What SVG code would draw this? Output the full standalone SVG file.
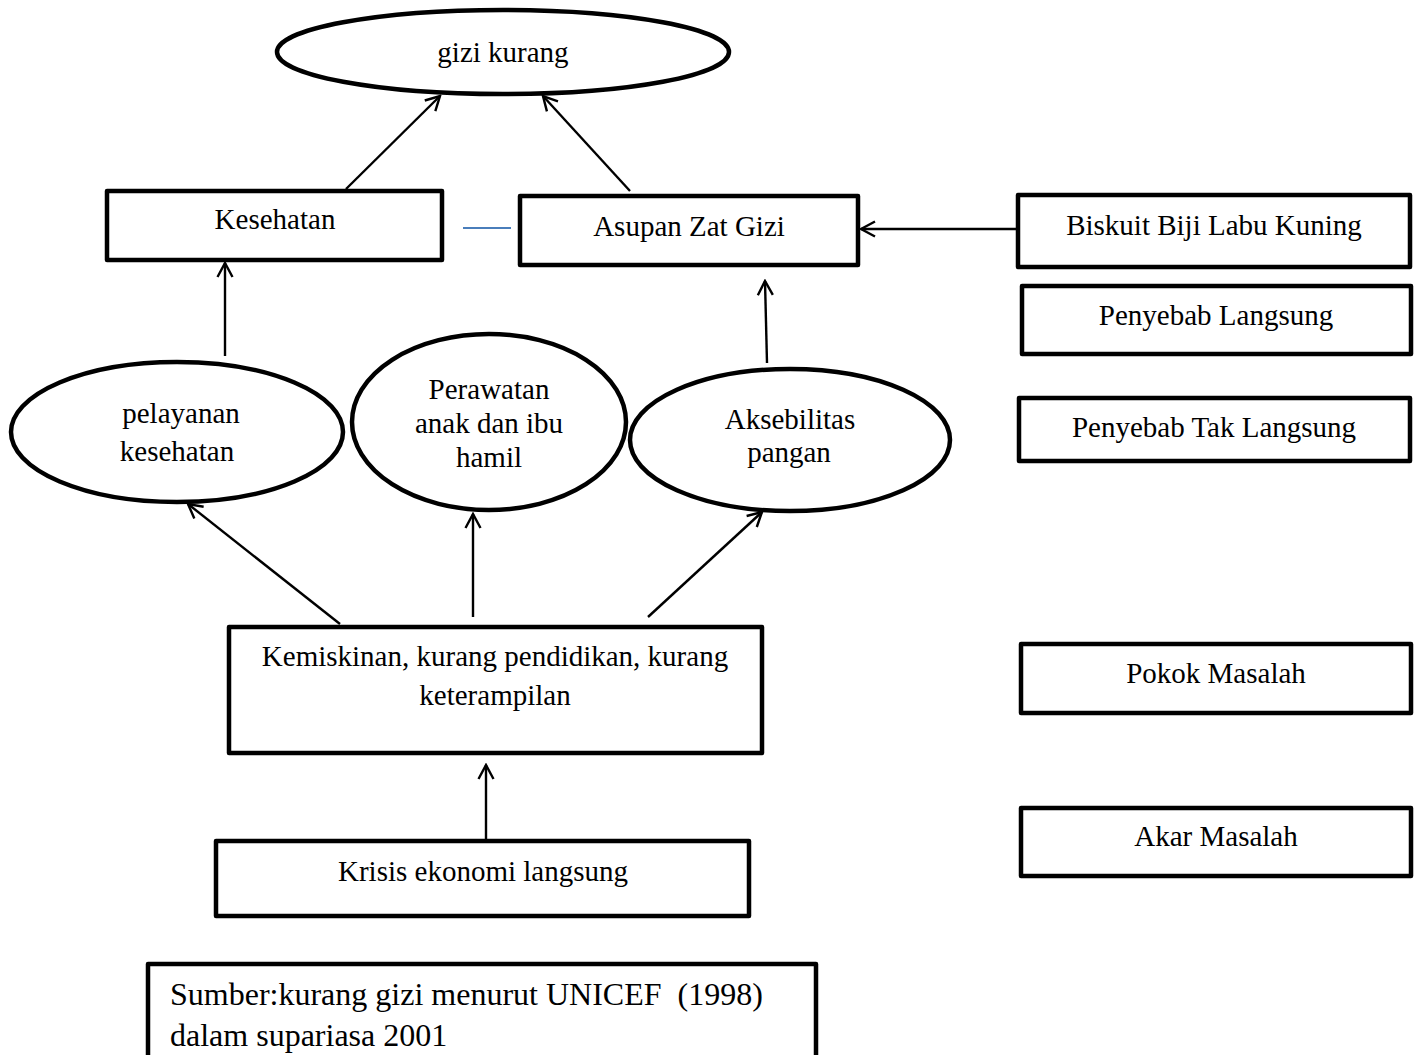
<svg xmlns="http://www.w3.org/2000/svg" width="1417" height="1055" viewBox="0 0 1417 1055">
<defs>
<marker id="arr" viewBox="0 0 18 18" refX="16" refY="9" markerWidth="18" markerHeight="18" markerUnits="userSpaceOnUse" orient="auto">
<path d="M2,1.5 L16,9 L2,16.5" fill="none" stroke="#000" stroke-width="2.4"/>
</marker>
<style>
.box{fill:#fff;stroke:#000;stroke-width:4.5;stroke-linejoin:round}
.ell{fill:#fff;stroke:#000;stroke-width:4.5}
.t{font-family:"Liberation Serif","Times New Roman",serif;font-size:29px;fill:#000;text-anchor:middle}
.tl{font-family:"Liberation Serif","Times New Roman",serif;font-size:32px;fill:#000}
.c{stroke:#000;stroke-width:2.4;fill:none;marker-end:url(#arr)}
</style>
</defs>
<rect width="1417" height="1055" fill="#fff"/>
<g id="connectors">
<line class="c" x1="346" y1="189" x2="440" y2="96"/>
<line class="c" x1="630" y1="191" x2="543" y2="96"/>
<line class="c" x1="1018" y1="229" x2="861" y2="229"/>
<line class="c" x1="225" y1="356" x2="225" y2="263"/>
<line class="c" x1="767" y1="363" x2="765" y2="281"/>
<line class="c" x1="340" y1="624" x2="188" y2="504"/>
<line class="c" x1="473" y1="617" x2="473" y2="514"/>
<line class="c" x1="648" y1="617" x2="762" y2="512"/>
<line class="c" x1="486" y1="839" x2="486" y2="765"/>
<line x1="463" y1="228" x2="511" y2="228" stroke="#4a7ebb" stroke-width="2"/>
</g>
<g id="gizi-kurang">
<ellipse class="ell" cx="503" cy="52" rx="226" ry="42"/>
<text class="t" x="503" y="62">gizi kurang</text>
</g>
<g id="kesehatan">
<rect class="box" x="107" y="191" width="335" height="69"/>
<text class="t" x="275" y="229">Kesehatan</text>
</g>
<g id="asupan">
<rect class="box" x="520" y="196" width="338" height="69"/>
<text class="t" x="689" y="236">Asupan Zat Gizi</text>
</g>
<g id="biskuit">
<rect class="box" x="1018" y="195" width="392" height="72"/>
<text class="t" x="1214" y="235">Biskuit Biji Labu Kuning</text>
</g>
<g id="penyebab-langsung">
<rect class="box" x="1022" y="286" width="389" height="68"/>
<text class="t" x="1216" y="325">Penyebab Langsung</text>
</g>
<g id="penyebab-tak-langsung">
<rect class="box" x="1019" y="398" width="391" height="63"/>
<text class="t" x="1214" y="437">Penyebab Tak Langsung</text>
</g>
<g id="pokok-masalah">
<rect class="box" x="1021" y="644" width="390" height="69"/>
<text class="t" x="1216" y="683">Pokok Masalah</text>
</g>
<g id="akar-masalah">
<rect class="box" x="1021" y="808" width="390" height="68"/>
<text class="t" x="1216" y="846">Akar Masalah</text>
</g>
<g id="pelayanan">
<ellipse class="ell" cx="177" cy="432" rx="166" ry="70"/>
<text class="t" x="181" y="423">pelayanan</text>
<text class="t" x="177" y="461">kesehatan</text>
</g>
<g id="perawatan">
<ellipse class="ell" cx="489" cy="422" rx="137" ry="88"/>
<text class="t" x="489" y="399">Perawatan</text>
<text class="t" x="489" y="433">anak dan ibu</text>
<text class="t" x="489" y="467">hamil</text>
</g>
<g id="aksebilitas">
<ellipse class="ell" cx="790" cy="440" rx="160" ry="71"/>
<text class="t" x="790" y="429">Aksebilitas</text>
<text class="t" x="789" y="462">pangan</text>
</g>
<g id="kemiskinan">
<rect class="box" x="229" y="627" width="533" height="126"/>
<text class="t" x="495" y="666">Kemiskinan, kurang pendidikan, kurang</text>
<text class="t" x="495" y="705">keterampilan</text>
</g>
<g id="krisis">
<rect class="box" x="216" y="841" width="533" height="75"/>
<text class="t" x="483" y="881">Krisis ekonomi langsung</text>
</g>
<g id="sumber">
<rect class="box" x="148" y="964" width="668" height="110"/>
<text class="tl" x="170" y="1005" xml:space="preserve">Sumber:kurang gizi menurut UNICEF  (1998)</text>
<text class="tl" x="170" y="1046">dalam supariasa 2001</text>
</g>
</svg>
